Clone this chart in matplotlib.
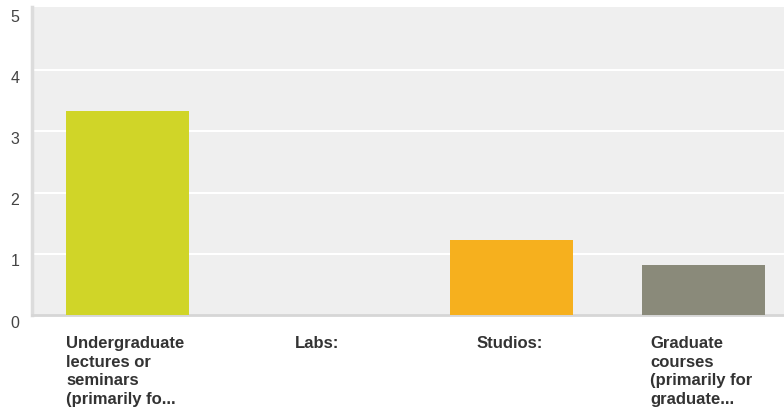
import matplotlib
matplotlib.use("Agg")
import matplotlib.pyplot as plt
from matplotlib.transforms import offset_copy

categories = ["Undergraduate\nlectures or\nseminars\n(primarily fo...",
              "Labs:",
              "Studios:",
              "Graduate\ncourses\n(primarily for\ngraduate..."]
values = [3.33, 0, 1.23, 0.81]
colors = ["#d0d528", "#d0d528", "#f6b01e", "#8a8a7a"]
yticks = [0, 1, 2, 3, 4, 5]

plt.rcParams['font.family'] = ['Liberation Sans', 'DejaVu Sans']

W, H = 784, 411
fig = plt.figure(figsize=(W/100, H/100), dpi=100)
left, right, top, bottom = 31.5, 784, 7, 315
ax = fig.add_axes([left/W, 1-bottom/H, (right-left)/W, (bottom-top)/H])
ax.set_facecolor("#efefef")
x = list(range(len(categories)))
ax.bar(x, values, width=0.64, color=colors, zorder=3)
ax.set_xlim(-0.5, 3.42)
ax.set_ylim(0, 308/61.2)
for t in yticks[1:5]:
    ax.axhline(t, color="white", lw=1.5, zorder=1)
for s in ["top", "right"]:
    ax.spines[s].set_visible(False)
ax.spines["left"].set_color("#dcdcdc")
ax.spines["left"].set_linewidth(2.5)
ax.spines["bottom"].set_color("#d6d6d6")
ax.spines["bottom"].set_linewidth(2)
ax.set_xticks([])
ax.set_yticks([])
trans = offset_copy(ax.get_yaxis_transform(), fig=fig, x=0, y=-8, units='dots')
for t in yticks:
    ax.text(-0.022, t, str(t), transform=trans, ha="center", va="center",
            fontsize=11.5, color="#444444", clip_on=False)
ltrans = offset_copy(ax.transData, fig=fig, x=0, y=-21, units='dots')
for i, c in enumerate(categories):
    ax.text(i - 0.01, 0, c, transform=ltrans, ha="center", va="top",
            multialignment="left", fontsize=12, fontweight="bold",
            color="#333333", linespacing=1.3, clip_on=False)
fig.savefig("out.png", dpi=100)
